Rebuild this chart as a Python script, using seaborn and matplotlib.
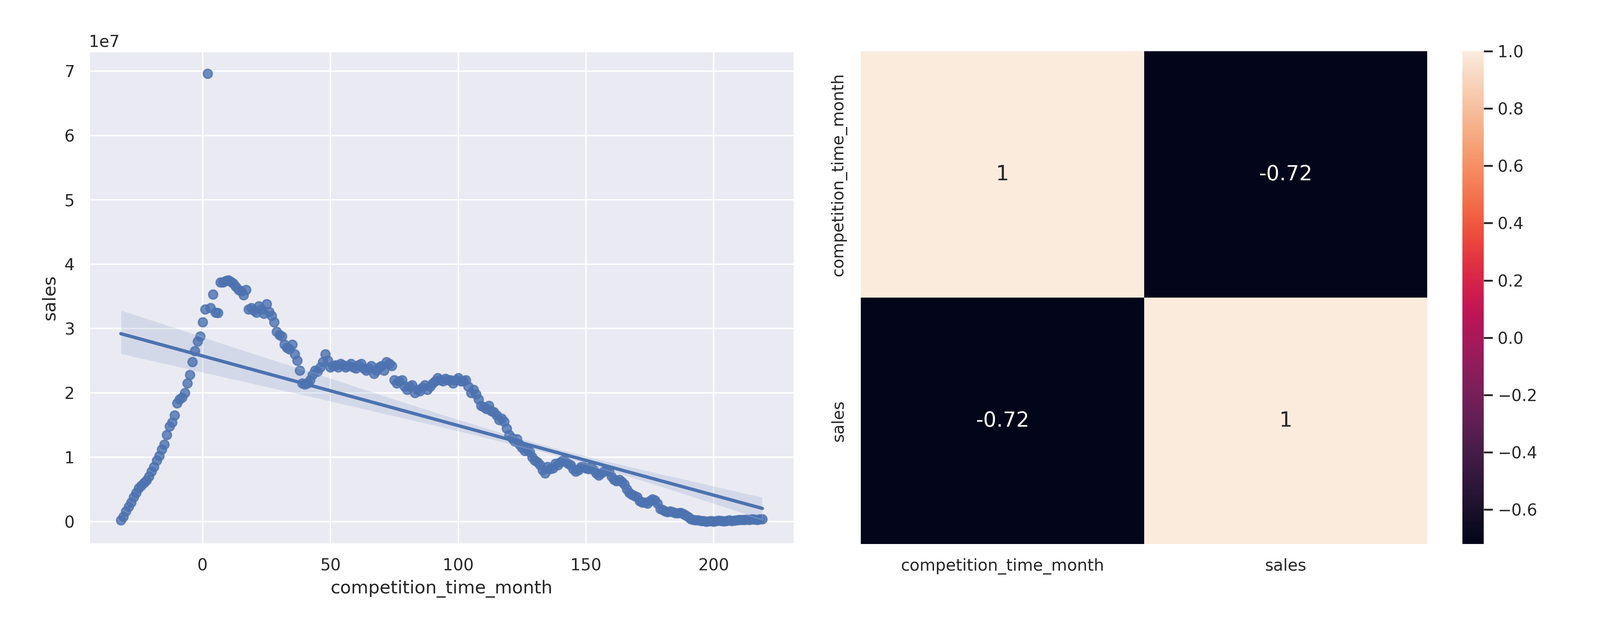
import numpy as np
import pandas as pd
import matplotlib
matplotlib.use("Agg")
import matplotlib.pyplot as plt
import seaborn as sns

months = list(range(-32, 220))
sales_millions = [
    0.2, 0.8, 1.6, 2.3, 3.0, 3.8, 4.5, 5.2, 5.6, 6.0,
    6.4, 7.0, 7.8, 8.5, 9.5, 10.2, 11.2, 12.0, 13.5, 14.8,
    15.4, 16.5, 18.4, 19.0, 19.3, 20.0, 21.5, 22.8, 24.8, 26.5,
    28.0, 28.8, 31.0, 33.0, 69.6, 33.2, 35.3, 32.5, 32.4, 37.2,
    37.2, 37.4, 37.5, 37.3, 37.0, 36.5, 36.0, 35.8, 35.2, 36.0,
    33.0, 33.2, 32.8, 32.5, 33.5, 33.0, 32.3, 33.8, 32.6, 32.0,
    31.0, 29.5, 29.0, 28.8, 27.5, 27.0, 26.8, 27.5, 26.0, 25.0,
    23.5, 21.5, 21.3, 21.5, 22.0, 22.8, 23.5, 23.3, 24.0, 24.8,
    26.0, 25.0, 24.0, 24.2, 24.3, 24.0, 24.5, 24.3, 24.0, 24.2,
    24.5, 24.0, 23.8, 24.3, 24.5, 23.8, 23.5, 23.8, 24.2, 23.0,
    23.5, 24.0, 24.2, 23.5, 24.8, 24.5, 24.2, 22.0, 21.5, 21.8,
    22.0, 21.0, 20.5, 21.0, 21.2, 20.0, 20.5, 20.3, 20.8, 21.2,
    20.5, 21.0, 21.5, 21.8, 22.3, 22.0, 21.8, 22.2, 22.0, 22.0,
    21.5, 22.0, 22.3, 21.8, 21.8, 22.0, 21.0, 20.0, 20.5, 19.8,
    19.0, 18.0, 17.8, 17.5, 18.0, 17.2, 17.0, 16.5, 15.8, 16.0,
    15.5, 14.5, 13.5, 13.0, 12.5, 12.8, 12.0, 11.5, 11.0, 11.2,
    10.8, 10.0, 9.5, 9.2, 8.8, 8.0, 7.5, 8.5, 8.2, 8.3,
    9.0, 8.8, 9.2, 9.5, 9.3, 9.0, 8.8, 8.2, 7.8, 8.0,
    8.5, 8.5, 8.3, 8.2, 8.5, 8.0, 7.5, 7.2, 7.5, 7.8,
    8.0, 7.8, 7.0, 6.5, 6.3, 6.5, 6.2, 5.8, 5.0, 4.5,
    4.2, 4.0, 3.8, 3.2, 3.0, 3.0, 2.8, 3.2, 3.5, 3.3,
    2.8, 2.0, 1.8, 1.6, 1.5, 1.6, 1.5, 1.3, 1.3, 1.4,
    1.2, 1.0, 0.7, 0.4, 0.3, 0.2, 0.2, 0.1, 0.1, 0.0,
    0.05, 0.1, 0.0, 0.1, 0.15, 0.1, 0.05, 0.1, 0.2, 0.1,
    0.15, 0.2, 0.3, 0.25, 0.3, 0.35, 0.3, 0.4, 0.35, 0.3,
    0.4, 0.4,
]
corr_labels = ["competition_time_month", "sales"]
corr_values = [[1.0, -0.72], [-0.72, 1.0]]

df = pd.DataFrame({"competition_time_month": months,
                   "sales": np.array(sales_millions) * 1e6})
corr = pd.DataFrame(corr_values, index=corr_labels, columns=corr_labels)

sns.set_theme()
fig = plt.figure(figsize=(15, 6), dpi=300)
ax1 = fig.add_axes([0.0555, 0.15, 0.441, 0.77])
ax2 = fig.add_axes([0.538, 0.15, 0.354, 0.77])
cax = fig.add_axes([0.914, 0.15, 0.0133, 0.77])

sns.regplot(data=df, x="competition_time_month", y="sales", ax=ax1)
sns.heatmap(corr, annot=True, ax=ax2, cbar_ax=cax, annot_kws={"size": 14})

fig.savefig("out.png", dpi=300)
